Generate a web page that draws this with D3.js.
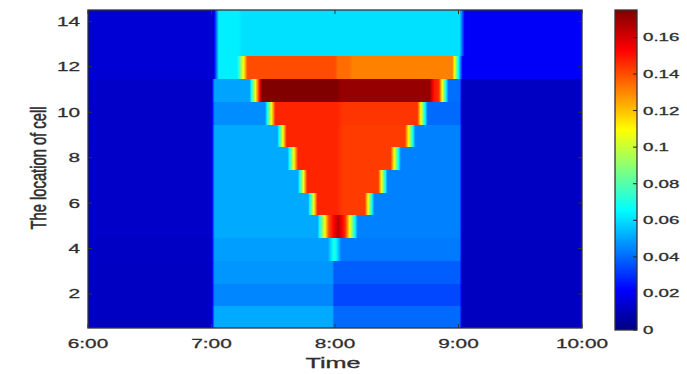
<!DOCTYPE html>
<html>
<head>
<meta charset="utf-8">
<script src="https://cdn.jsdelivr.net/npm/d3@7/dist/d3.min.js"></script>
<style>
  html, body { margin: 0; padding: 0; background: #fff; }
  svg { display: block; }
  text { font-family: "Liberation Sans", Arial, sans-serif; fill: #2e2e2e; stroke: #2e2e2e; stroke-width: 0.3px; }
</style>
</head>
<body>
<svg id="chart" width="687" height="374"></svg>
<script>
// Time axis: minutes after 6:00
const timeTicks = [0, 60, 120, 180, 240];
const timeLabels = ["6:00", "7:00", "8:00", "9:00", "10:00"];
const cellTicks = [2, 4, 6, 8, 10, 12, 14];
const colorTicks = [0, 0.02, 0.04, 0.06, 0.08, 0.1, 0.12, 0.14, 0.16];
const colorMax = 0.175;

// Density profile of each cell over time: [minute after 6:00, value] nodes
const cell01 = [[0,0.0115],[60,0.0115],[61.5,0.051],[118.8,0.051],[119.5,0.040],[180.5,0.040],[182,0.011],[240,0.011]];
const cell02 = [[0,0.0115],[60,0.0115],[61.5,0.045],[118.8,0.045],[119.5,0.034],[180.5,0.034],[182,0.011],[240,0.011]];
const cell03 = [[0,0.0115],[60,0.0115],[61.5,0.0476],[118.8,0.0476],[119.5,0.038],[180.5,0.038],[182,0.011],[240,0.011]];
const cell04 = [[0,0.012],[60,0.012],[61.5,0.049],[116.5,0.049],[119.8,0.072],[123,0.043],[180.5,0.043],[182,0.011],[240,0.011]];
const cell05 = [[0,0.0124],[60,0.0124],[61.5,0.051],[111.5,0.051],[117,0.140],[121.5,0.165],[125,0.145],[131,0.044],[180.5,0.044],[182,0.0115],[240,0.0115]];
const cell06 = [[0,0.0124],[60,0.0124],[61.5,0.051],[107,0.051],[111.5,0.147],[121,0.147],[124,0.143],[134.5,0.143],[139,0.044],[180.5,0.044],[182,0.0115],[240,0.0115]];
const cell07 = [[0,0.0124],[60,0.0124],[61.5,0.051],[102,0.051],[106.5,0.147],[121,0.147],[124,0.143],[141,0.143],[145.5,0.044],[180.5,0.044],[182,0.0115],[240,0.0115]];
const cell08 = [[0,0.0124],[60,0.0124],[61.5,0.051],[97,0.051],[102,0.147],[121,0.147],[124,0.143],[147,0.143],[152,0.044],[180.5,0.044],[182,0.0115],[240,0.0115]];
const cell09 = [[0,0.0124],[60,0.0124],[61.5,0.051],[92,0.051],[96.5,0.147],[121,0.147],[124,0.143],[154,0.143],[159,0.044],[180.5,0.044],[182,0.0115],[240,0.0115]];
const cell10 = [[0,0.0124],[60,0.0124],[61.5,0.046],[86,0.046],[91,0.147],[121,0.147],[124,0.144],[160,0.144],[165,0.040],[180.5,0.040],[182,0.0115],[240,0.0115]];
const cell11 = [[0,0.0124],[60,0.0124],[61.5,0.050],[78.5,0.050],[84.5,0.175],[121,0.175],[123,0.171],[166,0.171],[168,0.150],[170.5,0.145],[175,0.041],[180.5,0.041],[182,0.0115],[240,0.0115]];
const cell12 = [[0,0.0145],[61,0.0145],[63.5,0.063],[72.5,0.063],[77.5,0.140],[120,0.140],[121.5,0.1345],[127,0.1345],[128.5,0.131],[177,0.131],[182,0.021],[240,0.021]];
const cell13 = [[0,0.0145],[61,0.0145],[63.5,0.063],[73,0.063],[75,0.0605],[180.5,0.0605],[183,0.021],[240,0.021]];
const cell14 = [[0,0.0145],[61,0.0145],[63.5,0.063],[73,0.063],[75,0.0605],[180.5,0.0605],[183,0.021],[240,0.021]];
const cellProfiles = [cell01, cell02, cell03, cell04, cell05, cell06, cell07, cell08, cell09, cell10, cell11, cell12, cell13, cell14];

// Layout
const plot = { left: 88, right: 582, top: 10, bottom: 328 };
const bar = { left: 615, right: 637, top: 10, bottom: 330 };
const textStretch = 1.6;

const svg = d3.select("#chart");
const defs = svg.append("defs");

const x = d3.scaleLinear().domain([0, 240]).range([plot.left, plot.right]);
const y = d3.scaleLinear().domain([0.5, 14.5]).range([plot.bottom, plot.top]);

// MATLAB-style jet colormap
function jet(t) {
  const c = v => Math.max(0, Math.min(1, v));
  const r = c(1.5 - Math.abs(4 * t - 3));
  const g = c(1.5 - Math.abs(4 * t - 2));
  const b = c(1.5 - Math.abs(4 * t - 1));
  return d3.rgb(r * 255, g * 255, b * 255).formatHex();
}
const color = d3.scaleSequential(jet).domain([0, colorMax]);

// Heat map rows: each row filled with a gradient sampled along its profile.
// Rows are drawn bottom-up and each one reaches 1px below its lower edge so
// neighbouring rows meet without an anti-aliased seam.
const rows = svg.append("g");
cellProfiles.forEach((nodes, i) => {
  const cell = i + 1;
  const valueAt = d3.scaleLinear().domain(nodes.map(d => d[0])).range(nodes.map(d => d[1])).clamp(true);
  const id = "row" + cell;
  const grad = defs.append("linearGradient").attr("id", id)
    .attr("gradientUnits", "userSpaceOnUse")
    .attr("x1", x(0)).attr("x2", x(240)).attr("y1", 0).attr("y2", 0);
  const samples = d3.range(0, 240.0001, 0.25);
  grad.selectAll("stop").data(samples).join("stop")
    .attr("offset", m => m / 240)
    .attr("stop-color", m => color(valueAt(m)));
  const top = Math.round(y(cell + 0.5));
  const bottom = Math.min(plot.bottom, Math.round(y(cell - 0.5)) + (cell > 1 ? 1 : 0));
  rows.append("rect")
    .attr("x", x(0)).attr("width", x(240) - x(0))
    .attr("y", top).attr("height", bottom - top)
    .attr("fill", `url(#${id})`);
});

// Plot frame and inward ticks
const frame = svg.append("g").attr("stroke", "#333").attr("fill", "none");
frame.append("rect")
  .attr("x", plot.left).attr("y", plot.top)
  .attr("width", plot.right - plot.left).attr("height", plot.bottom - plot.top)
  .attr("stroke-width", 1.3);
timeTicks.forEach(t => {
  frame.append("line").attr("x1", x(t)).attr("x2", x(t)).attr("y1", plot.bottom).attr("y2", plot.bottom - 4);
  frame.append("line").attr("x1", x(t)).attr("x2", x(t)).attr("y1", plot.top).attr("y2", plot.top + 4);
});
cellTicks.forEach(c => {
  frame.append("line").attr("x1", plot.left).attr("x2", plot.left + 4).attr("y1", y(c)).attr("y2", y(c));
  frame.append("line").attr("x1", plot.right).attr("x2", plot.right - 4).attr("y1", y(c)).attr("y2", y(c));
});

// Tick labels
svg.append("g").selectAll("text").data(timeTicks).join("text")
  .attr("transform", (t) => `translate(${x(t)},348) scale(${textStretch},1)`)
  .attr("text-anchor", "middle").attr("font-size", 13)
  .text((t, i) => timeLabels[i]);
svg.append("g").selectAll("text").data(cellTicks).join("text")
  .attr("transform", c => `translate(80,${y(c) + 4.5}) scale(${textStretch},1)`)
  .attr("text-anchor", "end").attr("font-size", 13)
  .text(c => c);

// Axis titles
svg.append("text")
  .attr("transform", `translate(333,368) scale(${textStretch + 0.2},1)`)
  .attr("text-anchor", "middle").attr("font-size", 14)
  .text("Time");
svg.append("text")
  .attr("transform", `translate(46,168) scale(1.9,1) rotate(-90)`)
  .attr("text-anchor", "middle").attr("font-size", 12)
  .attr("textLength", 123).attr("lengthAdjust", "spacingAndGlyphs")
  .text("The location of cell");

// Colour bar
const cy = d3.scaleLinear().domain([0, colorMax]).range([bar.bottom, bar.top]);
const cgrad = defs.append("linearGradient").attr("id", "cbar")
  .attr("x1", 0).attr("x2", 0).attr("y1", 1).attr("y2", 0);
cgrad.selectAll("stop").data(d3.range(0, 1.0001, 1 / 128)).join("stop")
  .attr("offset", f => f)
  .attr("stop-color", f => color(f * colorMax));
svg.append("rect")
  .attr("x", bar.left).attr("y", bar.top)
  .attr("width", bar.right - bar.left).attr("height", bar.bottom - bar.top)
  .attr("fill", "url(#cbar)").attr("stroke", "#333").attr("stroke-width", 1.3);
svg.append("g").attr("stroke", "#222").selectAll("line").data(colorTicks).join("line")
  .attr("x1", bar.right).attr("x2", bar.right - 4)
  .attr("y1", v => cy(v)).attr("y2", v => cy(v));
svg.append("g").selectAll("text").data(colorTicks).join("text")
  .attr("transform", v => `translate(643,${cy(v) + 4}) scale(${textStretch + 0.1},1)`)
  .attr("font-size", 11)
  .text(v => v === 0 ? "0" : d3.format(".2~f")(v));
</script>
</body>
</html>
